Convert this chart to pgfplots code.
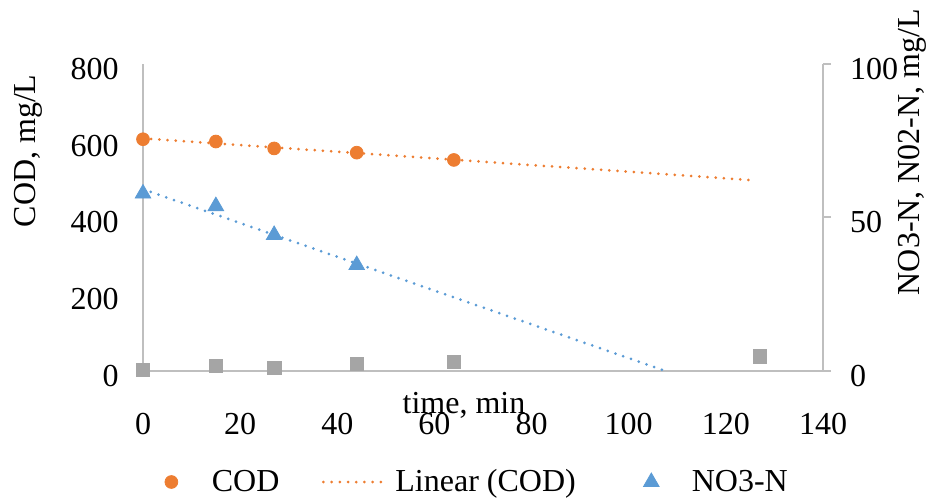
\documentclass[border=0pt]{standalone}
\usepackage{pgfplots}
\pgfplotsset{compat=1.18}
\usepackage{fontspec}
\setmainfont{Liberation Serif}
\definecolor{codorange}{RGB}{237,125,49}
\definecolor{no3blue}{RGB}{91,155,213}
\definecolor{no2gray}{RGB}{165,165,165}
\definecolor{axgray}{RGB}{191,191,191}
\newcommand{\legbox}{\pgfpathmoveto{\pgfpoint{0pt}{0pt}}\pgfpathlineto{\pgfpoint{31.5pt}{0pt}}\pgfusepath{use as bounding box}}
\begin{document}
\begin{tikzpicture}[x=1pt,y=1pt]
\pgfplotsset{
  every axis/.append style={
    scale only axis, width=340pt, height=153.5pt,
    at={(71.5pt,65.5pt)}, anchor=south west,
    xmin=0, xmax=140, clip=false,
    /pgf/number format/assume math mode=true,
    tick label style={font=\fontsize{16}{19}\selectfont},
    label style={font=\fontsize{16}{19}\selectfont},
    axis line style={draw=axgray, line width=1pt, -},
  },
  trend/.style={line width=1.5pt, dash pattern=on 0pt off 4.1pt, line cap=round},
  lineleg/.style={legend image code/.code={\legbox \draw[##1] plot coordinates {(0pt,0pt) (15.75pt,0pt) (31.5pt,0pt)};}},
  markleg/.style={legend image code/.code={\legbox \draw[##1, line cap=butt] plot coordinates {(15.75pt,0pt)};}},
}
% ---- left axis: COD ----
\begin{axis}[
  axis x line*=bottom, axis y line*=left,
  ymin=0, ymax=800, ytick={0,200,400,600,800},
  xtick={0,20,40,60,80,100,120,140},
  major tick length=0pt,
  xticklabel style={yshift=-17.5pt},
  yticklabel style={xshift=-8.6pt, yshift=-2.5pt},
  xlabel={time, min},
  xlabel style={at={(axis description cs:0.472,-0.111)}, anchor=center},
  ylabel={COD, mg/L},
  ylabel style={at={(axis description cs:-0.169,0.717)}, anchor=center},
]
\addplot[only marks, mark=*, mark size=3.2pt, color=codorange] coordinates {
  (0,604) (15,598) (27,580) (44,569) (64,550)
};
\addplot[trend, color=codorange] coordinates {(0,606.1) (126,496.8)};
\end{axis}
% ---- right axis: NO3-N, NO2-N ----
\begin{axis}[
  axis x line=none, axis y line*=right,
  ymin=0, ymax=100, ytick={0,50,100},
  tick align=outside, major tick length=4pt,
  tick style={draw=axgray, line width=1pt},
  yticklabel style={xshift=6pt, yshift=-2.5pt},
  ylabel={NO3-N, N02-N, mg/L},
  ylabel style={at={(axis description cs:1.131,0.713)}, anchor=center},
  legend columns=3,
  legend style={draw=none, fill=none, font=\fontsize{16}{19}\selectfont,
    at={(axis description cs:-0.014,-0.3616)}, anchor=west,
    /tikz/every odd column/.append style={column sep=2.5pt},
    /tikz/every even column/.append style={column sep=20pt}},
]
\addlegendimage{only marks, mark=*, mark size=3.2pt, color=codorange, markleg}
\addlegendentry{COD}
\addlegendimage{trend, color=codorange, lineleg}
\addlegendentry{Linear (COD)}
\addplot[only marks, mark=triangle*, mark size=4.5pt, color=no3blue, markleg] coordinates {
  (0,57.8) (15,53.7) (27,44.3) (44,34.5)
};
\addlegendentry{NO3-N}
\addplot[forget plot, trend, color=no3blue] coordinates {(0,59.2) (107.6,0)};
\addplot[forget plot, only marks, mark=square*, mark size=3.4pt, color=no2gray] coordinates {
  (0,0.4) (15,1.6) (27,1.0) (44,2.3) (64,3.0) (127,4.7)
};
\end{axis}
\pgfresetboundingbox
\useasboundingbox (0,0) rectangle (467.5,251);
\end{tikzpicture}
\end{document}
